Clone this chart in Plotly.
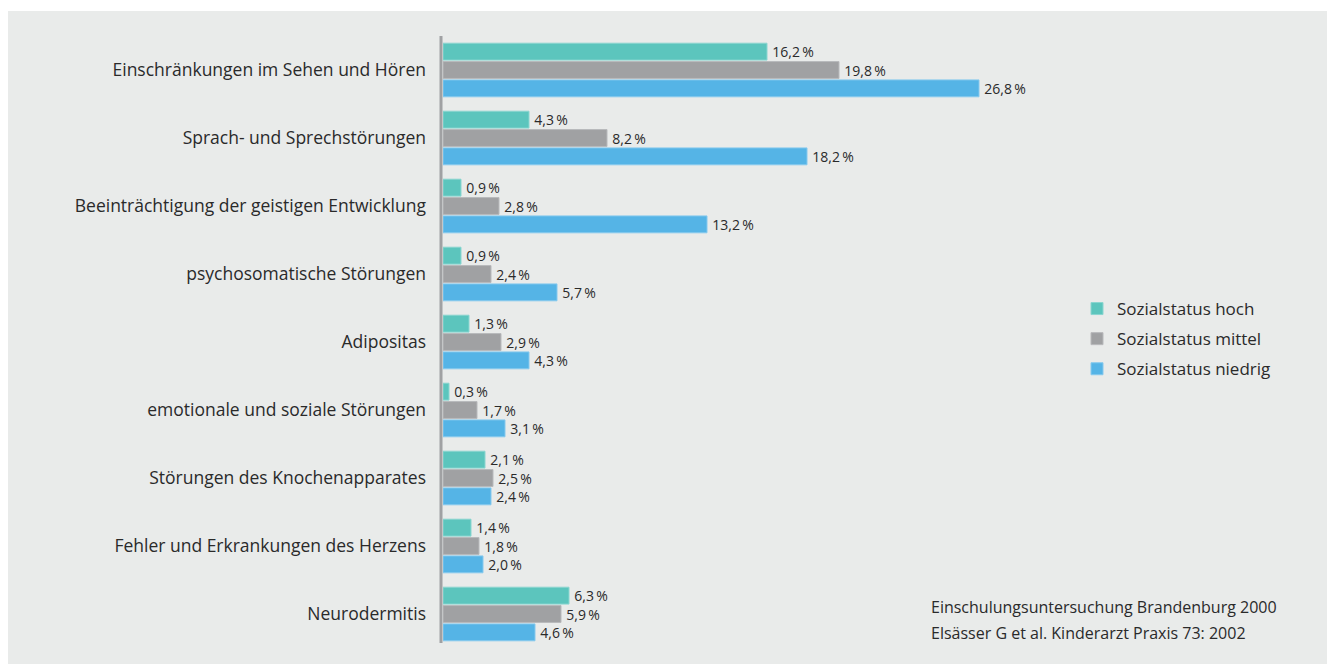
import plotly.graph_objects as go

categories = [
    "Einschränkungen im Sehen und Hören",
    "Sprach- und Sprechstörungen",
    "Beeinträchtigung der geistigen Entwicklung",
    "psychosomatische Störungen",
    "Adipositas",
    "emotionale und soziale Störungen",
    "Störungen des Knochenapparates",
    "Fehler und Erkrankungen des Herzens",
    "Neurodermitis",
]
hoch = [16.2, 4.3, 0.9, 0.9, 1.3, 0.3, 2.1, 1.4, 6.3]
mittel = [19.8, 8.2, 2.8, 2.4, 2.9, 1.7, 2.5, 1.8, 5.9]
niedrig = [26.8, 18.2, 13.2, 5.7, 4.3, 3.1, 2.4, 2.0, 4.6]
series_names = ["Sozialstatus hoch", "Sozialstatus mittel", "Sozialstatus niedrig"]
series_values = [hoch, mittel, niedrig]
colors = ["#5cc5bd", "#a0a1a3", "#55b4e6"]
edge = ["#8ad6d0", "#b8b9bb", "#86c9ee"]
source_lines = ["Einschulungsuntersuchung Brandenburg 2000",
                "Elsässer G et al. Kinderarzt Praxis 73: 2002"]

FONT = "Open Sans"
TXT = "#2a2a2a"

W, H = 1327, 664
L, R, T, B = 443, 244, 36, 16
pw, ph = W - L - R, H - T - B

def px_x(p):
    return (p - L) / pw

def px_y(p):
    return (H - B - p) / ph

fig = go.Figure()
for i, (name, vals) in enumerate(zip(series_names, series_values)):
    fig.add_trace(go.Bar(
        y=categories, x=vals, name=name, orientation="h",
        marker=dict(color=colors[i], line=dict(color=edge[i], width=1)),
        text=["\u2009" + f"{v:.1f}".replace(".", ",") + "\u2009%" for v in vals],
        textposition="outside", cliponaxis=False, constraintext="none",
        textfont=dict(family=FONT, size=14, color=TXT),
        legendgroup=f"g{i}",
    ))

fig.add_shape(type="rect", xref="paper", yref="paper",
              x0=px_x(8), x1=px_x(1327), y0=px_y(664), y1=px_y(11),
              fillcolor="#e9ebea", line=dict(width=0), layer="below")
fig.add_shape(type="line", xref="paper", yref="paper",
              x0=px_x(441), x1=px_x(441), y0=px_y(643), y1=px_y(36),
              line=dict(color="#a0a1a3", width=3), layer="above")

for j, line in enumerate(source_lines):
    fig.add_annotation(xref="paper", yref="paper", x=px_x(929), y=px_y(607 + 26 * j),
                       xanchor="left", yanchor="middle", showarrow=False, text=line,
                       font=dict(family=FONT, size=16, color=TXT))

fig.update_layout(
    width=W, height=H,
    margin=dict(l=L, r=R, t=T, b=B, pad=0),
    paper_bgcolor="white", plot_bgcolor="rgba(0,0,0,0)",
    barmode="group", bargap=0.19, bargroupgap=0.08,
    showlegend=True,
    legend=dict(x=px_x(1077), y=px_y(339), xanchor="left", yanchor="middle",
                traceorder="grouped", tracegroupgap=5,
                font=dict(family=FONT, size=17, color=TXT),
                bgcolor="rgba(0,0,0,0)", itemwidth=30),
    xaxis=dict(range=[0, 32], visible=False, fixedrange=True),
    yaxis=dict(autorange="reversed", showgrid=False, showline=False, zeroline=False,
               ticks="", ticklabelstandoff=16,
               tickfont=dict(family=FONT, size=17.5, color=TXT)),
    font=dict(family=FONT, color=TXT),
)

fig.write_html("out.html")
